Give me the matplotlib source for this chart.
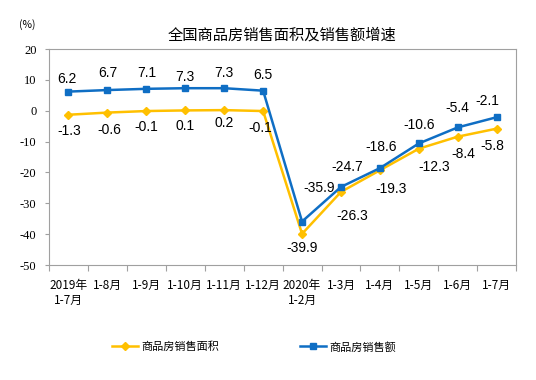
import matplotlib
matplotlib.use("Agg")
import matplotlib.pyplot as plt
import numpy as np

plt.rcParams['font.family'] = ['Liberation Sans', 'Noto Sans CJK SC', 'DejaVu Sans']
plt.rcParams['axes.unicode_minus'] = False

categories = ['2019年\n1-7月', '1-8月', '1-9月', '1-10月', '1-11月', '1-12月',
              '2020年\n1-2月', '1-3月', '1-4月', '1-5月', '1-6月', '1-7月']
area = [-1.3, -0.6, -0.1, 0.1, 0.2, -0.1, -39.9, -26.3, -19.3, -12.3, -8.4, -5.8]
amount = [6.2, 6.7, 7.1, 7.3, 7.3, 6.5, -35.9, -24.7, -18.6, -10.6, -5.4, -2.1]
y_ticks = [-50, -40, -30, -20, -10, 0, 10, 20]

# label offsets in pixels (dx, dy)
amount_off = [(-2, 13), (0, 17), (0, 16), (0, 11), (0, 15), (0, 16),
              (17, 34), (6, 20), (1, 21), (0, 18), (0, 19), (-9, 16)]
area_off = [(1, -16), (2, -17), (0, -16), (0, -16), (0, -13), (-3, -17),
            (0, -14), (11, -24), (11, -19), (15, -18), (6, -17), (-4, -17)]

yellow = '#FFC000'
blue = '#0F6EC4'
cjk = ['Noto Sans CJK SC', 'DejaVu Sans']

fig = plt.figure(figsize=(5.36, 3.80), dpi=100)
ax = fig.add_axes([0.0914, 0.3026, 0.8716, 0.5684])

x = np.arange(len(categories))
ax.plot(x, area, color=yellow, lw=1.8, marker='D', ms=4, label='商品房销售面积')
ax.plot(x, amount, color=blue, lw=1.8, marker='s', ms=5, label='商品房销售额')

for i in range(len(x)):
    ax.annotate(f'{amount[i]:.1f}', (x[i], amount[i]), xytext=amount_off[i],
                textcoords='offset pixels', ha='center', va='center', fontsize=10)
    ax.annotate(f'{area[i]:.1f}', (x[i], area[i]), xytext=area_off[i],
                textcoords='offset pixels', ha='center', va='center', fontsize=10)

ax.set_xlim(-0.5, len(x) - 0.5)
ax.set_ylim(-50, 20)
ax.set_yticks(y_ticks)
ax.set_yticklabels([str(v) for v in y_ticks], family='Liberation Serif', fontsize=9)
ax.tick_params(axis='y', length=3, width=0.8, color='#A0A0A0', pad=6)

ax.set_xticks(np.arange(-0.5, len(x), 1.0))
ax.set_xticklabels([])
ax.tick_params(axis='x', which='major', length=4, width=0.8, color='#A0A0A0')
ax.set_xticks(x, minor=True)
ax.set_xticklabels(categories, minor=True, fontsize=8.5, family=cjk, linespacing=1.25)
ax.tick_params(axis='x', which='minor', length=0, pad=10)

for s in ax.spines.values():
    s.set_color('#A0A0A0')
    s.set_linewidth(0.8)

fig.text(282 / 536, 1 - 35 / 380, '全国商品房销售面积及销售额增速', ha='center', va='center',
         fontsize=11, family=cjk)
fig.text(27 / 536, 1 - 25 / 380, '(%)', ha='center', va='center', fontsize=7.5, family=cjk)

fig.legend(loc='center', bbox_to_anchor=(254 / 536, 1 - 347 / 380), ncol=2, frameon=False,
           handlelength=2.4, columnspacing=7.2, handletextpad=0.3,
           prop={'family': cjk, 'size': 8})

fig.savefig('out.png', dpi=100)
